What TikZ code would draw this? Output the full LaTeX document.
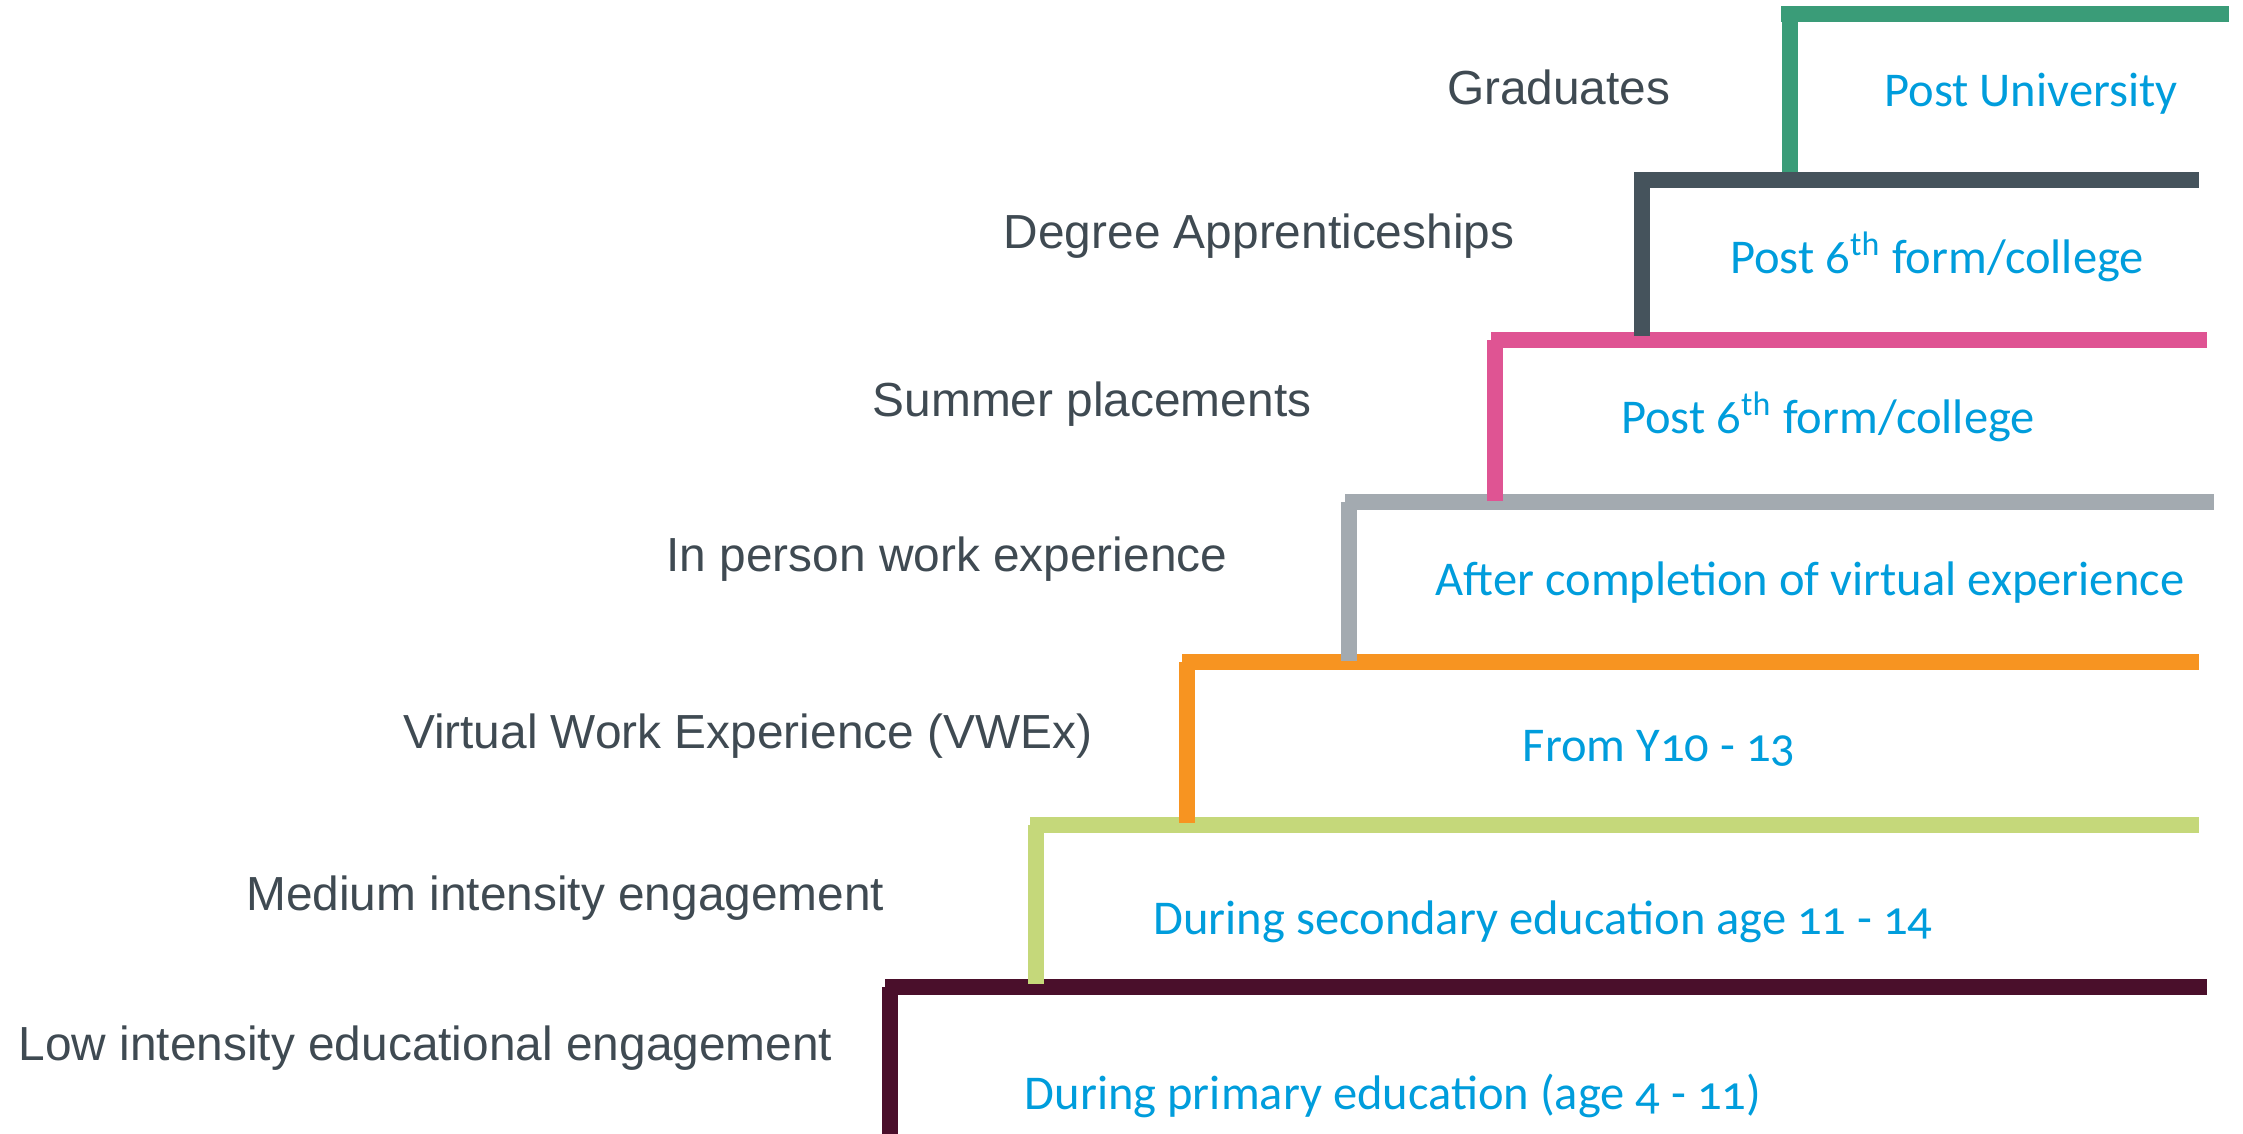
\documentclass[tikz,border=0pt]{standalone}
\usepackage{fontspec}
\setmainfont{Liberation Sans}
\newfontfamily\calfont[Numbers=OldStyle]{Carlito}
\definecolor{labelgray}{HTML}{3F4A52}
\definecolor{infoblue}{HTML}{009DDC}
\definecolor{stepgreen}{HTML}{3A9C78}
\definecolor{stepslate}{HTML}{45535C}
\definecolor{steppink}{HTML}{DF5493}
\definecolor{stepgrey}{HTML}{A3AAB0}
\definecolor{steporange}{HTML}{F79421}
\definecolor{steplime}{HTML}{C5D87A}
\definecolor{stepmaroon}{HTML}{4A0F2B}
\tikzset{
  stair/.style={line width=4.6pt, line cap=butt},
  stagelabel/.style={anchor=east, text=labelgray, font=\fontsize{13.6}{16}\selectfont, inner sep=0pt},
  stageinfo/.style={text=infoblue, font=\calfont\fontsize{13.8}{16}\selectfont, inner sep=0pt},
}
\begin{document}
\begin{tikzpicture}[x=0.01cm, y=-0.01cm]
\useasboundingbox (0,0) rectangle (2243,1134);

% corners of each step: top-left of the tread, foot of the riser
\coordinate (g1) at (1781,14);   \coordinate (g2) at (2229,14);
\coordinate (gr1) at (1790,14);  \coordinate (gr2) at (1790,172);
\coordinate (s1) at (1634,180);  \coordinate (s2) at (2199,180);
\coordinate (sr1) at (1642,180); \coordinate (sr2) at (1642,336);
\coordinate (p1) at (1491,340);  \coordinate (p2) at (2207,340);
\coordinate (pr1) at (1495,340); \coordinate (pr2) at (1495,501);
\coordinate (y1) at (1345,502);  \coordinate (y2) at (2214,502);
\coordinate (yr1) at (1349,502); \coordinate (yr2) at (1349,661);
\coordinate (o1) at (1182,662);  \coordinate (o2) at (2199,662);
\coordinate (or1) at (1187,662); \coordinate (or2) at (1187,823);
\coordinate (l1) at (1030,825);  \coordinate (l2) at (2199,825);
\coordinate (lr1) at (1036,825); \coordinate (lr2) at (1036,984);
\coordinate (m1) at (885,987);   \coordinate (m2) at (2207,987);
\coordinate (mr1) at (890,987);  \coordinate (mr2) at (890,1134);

% steps, from the bottom up
\draw[stair, stepmaroon] (m1) -- (m2);
\draw[stair, stepmaroon] (mr1) -- (mr2);
\draw[stair, steplime] (lr1) -- (lr2);
\draw[stair, steplime] (l1) -- (l2);
\draw[stair, steporange] (or1) -- (or2);
\draw[stair, steporange] (o1) -- (o2);
\draw[stair, stepgrey] (yr1) -- (yr2);
\draw[stair, stepgrey] (y1) -- (y2);
\draw[stair, steppink] (pr1) -- (pr2);
\draw[stair, steppink] (p1) -- (p2);
\draw[stair, stepslate] (sr1) -- (sr2);
\draw[stair, stepslate] (s1) -- (s2);
\draw[stair, stepgreen] (gr1) -- (gr2);
\draw[stair, stepgreen] (g1) -- (g2);

% stage names
\node[stagelabel] (grad) at (1671,87) {Graduates};
\node[stagelabel] (degree) at (1515,236) {Degree Apprenticeships};
\node[stagelabel] (summer) at (1312,404) {Summer placements};
\node[stagelabel] (inperson) at (1228,559) {In person work experience};
\node[stagelabel] (virtual) at (1093,736) {Virtual Work Experience (VWEx)};
\node[stagelabel] (medium) at (885,898) {Medium intensity engagement};
\node[stagelabel] (low) at (833,1048) {Low intensity educational engagement};

% when each stage happens
\node[stageinfo] (whengrad) at (2031,94) {Post University};
\node[stageinfo] (whendegree) at (1937,257) {Post 6\textsuperscript{th} form/college};
\node[stageinfo] (whensummer) at (1828,417) {Post 6\textsuperscript{th} form/college};
\node[stageinfo] (wheninperson) at (1810,583) {After completion of virtual experience};
\node[stageinfo] (whenvirtual) at (1659,748) {From Y10 - 13};
\node[stageinfo] (whenmedium) at (1543,922) {During secondary education age 11 - 14};
\node[stageinfo] (whenlow) at (1393,1096) {During primary education (age 4 - 11)};
\end{tikzpicture}
\end{document}
